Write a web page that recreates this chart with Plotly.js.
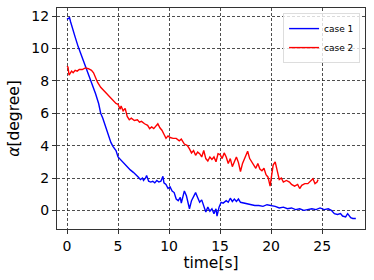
<!DOCTYPE html>
<html>
<head>
<meta charset="utf-8">
<script src="https://cdn.plot.ly/plotly-3.0.1.min.js"></script>
<style>
  html, body { margin: 0; padding: 0; background: white; }
  #chart { width: 374px; height: 280px; }
</style>
</head>
<body>
<div id="chart"></div>
<script>
// case 1 (blue)
const timeCase1 = [
  0, 0.15, 0.25, 0.35, 0.5, 0.8, 1.1, 1.4, 1.7, 1.9, 2.2, 2.5, 2.8, 3.1, 3.3, 3.5, 3.7, 3.9,
  4.1, 4.3, 4.5, 4.8, 5.0, 5.3, 5.5, 5.8, 6.0, 6.2, 6.5, 6.8, 7.0, 7.2, 7.4, 7.5, 7.7, 7.8,
  8.0, 8.2, 8.4, 8.6, 8.8, 9.0, 9.2, 9.4, 9.5, 9.7, 9.9, 10.1, 10.3, 10.5, 10.7, 10.9, 11.1,
  11.2, 11.4, 11.5, 11.7, 11.9, 12.0, 12.2, 12.4, 12.6, 12.8, 13.0, 13.2, 13.4, 13.6, 13.8,
  14.0, 14.2, 14.4, 14.6, 14.7, 14.9, 15.1, 15.3, 15.6, 15.8, 16.0, 16.2, 16.4, 16.6, 16.8,
  17.0, 17.3, 17.6, 18.0, 18.4, 18.8, 19.2, 19.6, 20.0, 20.4, 20.8, 21.2, 21.6, 22.0, 22.4,
  22.8, 23.2, 23.6, 24.0, 24.4, 24.8, 25.2, 25.6, 25.9, 26.2, 26.5, 26.8, 27.0, 27.3, 27.5,
  27.8, 28.0, 28.3
];
const alphaCase1 = [
  11.8, 11.85, 11.9, 11.65, 11.3, 10.7, 10.1, 9.6, 9.1, 8.8, 8.2, 7.7, 7.2, 6.6, 6.0, 5.7, 5.3, 4.95,
  4.6, 4.2, 3.95, 3.7, 3.3, 3.1, 2.95, 2.75, 2.6, 2.5, 2.35, 2.2, 2.05, 1.9, 2.0, 1.85, 2.0, 2.15,
  1.8, 1.75, 1.8, 1.7, 1.85, 1.75, 1.8, 2.1, 1.7, 1.6, 1.35, 1.45, 1.2, 1.1, 0.7, 0.6, 0.8,
  0.45, 1.0, 1.2, 0.9, 0.3, 0.1, 0.6, 0.9, 1.1, 0.8, 0.5, 0.65, 0.3, -0.1, 0.2,
  -0.05, 0.1, -0.2, 0.1, -0.35, 0.2, 0.5, 0.45, 0.6, 0.5, 0.75, 0.55, 0.7, 0.55, 0.7,
  0.5, 0.45, 0.4, 0.35, 0.3, 0.3, 0.25, 0.35, 0.3, 0.25, 0.15, 0.2, 0.1, 0.15, 0.05,
  0.1, 0.0, 0.05, 0.1, 0.05, 0.15, 0.05, 0.1, 0.0, -0.2, -0.25, -0.2, -0.35, -0.4, -0.2,
  -0.45, -0.5, -0.5
];

// case 2 (red)
const timeCase2 = [
  0, 0.1, 0.2, 0.3, 0.45, 0.6, 0.8, 1.0, 1.2, 1.5, 1.8, 2.1, 2.4, 2.6, 2.8, 3.0, 3.3, 3.6,
  3.9, 4.2, 4.5, 4.8, 5.0, 5.2, 5.3, 5.5, 5.7, 5.9, 6.1, 6.3, 6.6, 6.9, 7.1, 7.3, 7.6, 7.9,
  8.1, 8.3, 8.5, 8.7, 8.9, 9.1, 9.3, 9.5, 9.7, 9.9, 10.1, 10.4, 10.7, 11.0, 11.2, 11.5, 11.8,
  12.0, 12.2, 12.4, 12.6, 12.8, 13.0, 13.2, 13.4, 13.6, 13.8, 14.0, 14.2, 14.4, 14.6, 14.8,
  15.0, 15.2, 15.4, 15.6, 15.8, 16.0, 16.2, 16.4, 16.6, 16.8, 17.0, 17.2, 17.5, 17.7, 17.9,
  18.1, 18.3, 18.5, 18.7, 18.9, 19.1, 19.3, 19.5, 19.7, 19.9, 20.0, 20.2, 20.4, 20.6, 20.8,
  21.0, 21.2, 21.5, 21.8, 22.0, 22.3, 22.6, 22.8, 23.0, 23.3, 23.6, 23.9, 24.1, 24.3, 24.5, 24.6
];
const alphaCase2 = [
  8.9, 8.85, 8.35, 8.45, 8.6, 8.5, 8.65, 8.6, 8.7, 8.7, 8.8, 8.75, 8.65, 8.5, 8.2, 7.9, 7.6, 7.4,
  7.15, 7.0, 6.8, 6.6, 6.55, 6.25, 6.45, 6.15, 6.3, 5.8, 5.6, 5.7, 5.55, 5.6, 5.45, 5.5, 5.35, 5.25,
  5.05, 5.15, 5.05, 5.2, 5.35, 5.1, 4.95, 4.7, 4.45, 4.6, 4.5, 4.45, 4.45, 4.3, 4.4, 4.1, 4.0,
  3.8, 3.55, 3.7, 3.4, 3.6, 3.5, 3.3, 3.7, 3.2, 3.05, 3.3, 3.15, 3.3, 3.0, 3.5,
  3.45, 3.2, 3.55, 3.3, 2.9, 3.2, 2.7, 3.0, 3.3, 2.95, 2.4, 2.9, 3.3, 3.65, 3.2,
  3.0, 2.8, 2.6, 2.9, 2.55, 2.45, 2.6, 2.2, 2.05, 1.5, 1.85, 2.8, 3.0, 2.4, 1.9,
  2.0, 1.75, 1.85, 1.75, 1.6, 1.5, 1.6, 1.35, 1.55, 1.65, 1.65, 1.8, 1.95, 1.65, 1.75, 1.9
];

const xTicks = [0, 5, 10, 15, 20, 25];
const yTicks = [0, 2, 4, 6, 8, 10, 12];

const font = "DejaVu Sans, sans-serif";

const traceCase1 = {
  x: timeCase1,
  y: alphaCase1,
  mode: "lines",
  name: "case 1",
  line: { color: "#0000ff", width: 1.4 },
};

const traceCase2 = {
  x: timeCase2,
  y: alphaCase2,
  mode: "lines",
  name: "case 2",
  line: { color: "#ff0000", width: 1.4 },
};

const axisCommon = {
  showgrid: true,
  gridcolor: "#222",
  griddash: "3px,2px",
  gridwidth: 0.8,
  zeroline: false,
  showline: true,
  linecolor: "#333",
  linewidth: 1,
  mirror: true,
  ticks: "outside",
  ticklen: 4,
  tickcolor: "#333",
  tickfont: { family: font, size: 14, color: "black" },
};

const layout = {
  width: 374,
  height: 280,
  margin: { l: 57, r: 9, t: 8, b: 51 },
  paper_bgcolor: "white",
  plot_bgcolor: "white",
  showlegend: true,
  legend: {
    x: 0.984,
    y: 0.977,
    xanchor: "right",
    yanchor: "top",
    bgcolor: "rgba(255,255,255,0.8)",
    bordercolor: "#ddd",
    borderwidth: 1,
    font: { family: font, size: 9, color: "black" },
    itemwidth: 30,
    tracegroupgap: 0,
  },
  xaxis: {
    ...axisCommon,
    range: [-0.98, 29.2],
    tickvals: xTicks,
    ticktext: xTicks.map(String),
    title: { text: "time[s]", font: { family: font, size: 15.5, color: "black" }, standoff: 4 },
  },
  yaxis: {
    ...axisCommon,
    range: [-1.15, 12.5],
    tickvals: yTicks,
    ticktext: yTicks.map(String),
    title: {
      text: "<i>α</i>[degree]",
      font: { family: font, size: 15.5, color: "black" },
      standoff: 7,
    },
  },
};

Plotly.newPlot("chart", [traceCase1, traceCase2], layout, { displayModeBar: false, staticPlot: true });
</script>
</body>
</html>
